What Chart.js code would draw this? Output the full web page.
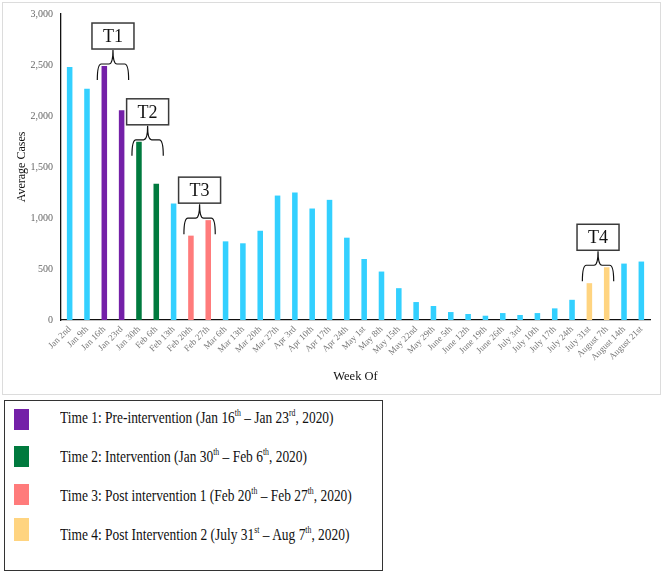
<!DOCTYPE html>
<html>
<head>
<meta charset="utf-8" />
<title>Average Cases by Week</title>
<script src="https://cdn.jsdelivr.net/npm/chart.js"></script>
<style>
  body { margin: 0; background: #fff; font-family: 'Liberation Serif', serif; }
  #card { position: absolute; left: 2px; top: 2px; width: 657px; height: 391px; border: 1px solid #dcdcdc; }
  #wrap { position: absolute; left: 0; top: 0; width: 668px; height: 396px; }
  #legend { position: absolute; left: 4px; top: 400px; width: 377px; height: 169px; border: 1px solid #333; }
  .sw { position: absolute; left: 9px; width: 15px; height: 21px; }
  .tx { position: absolute; left: 55px; font-size: 17px; color: #111; white-space: nowrap;
        transform: scaleX(0.79); transform-origin: left center; line-height: 20px; }
  .tx sup { font-size: 0.58em; line-height: 0; vertical-align: 0.7em; }
</style>
</head>
<body>
<div id="card"></div>
<div id="wrap"><canvas id="chart" width="668" height="396"></canvas></div>
<div id="legend">
  <div class="sw" style="top:8px;background:#7420A8"></div>
  <div class="tx" style="top:7px">Time 1: Pre-intervention (Jan 16<sup>th</sup> – Jan 23<sup>rd</sup>, 2020)</div>
  <div class="sw" style="top:45px;background:#007A3E"></div>
  <div class="tx" style="top:46px">Time 2: Intervention (Jan 30<sup>th</sup> – Feb 6<sup>th</sup>, 2020)</div>
  <div class="sw" style="top:83px;background:#FF7B7B"></div>
  <div class="tx" style="top:85px">Time 3: Post intervention 1 (Feb 20<sup>th</sup> – Feb 27<sup>th</sup>, 2020)</div>
  <div class="sw" style="top:117px;height:23px;background:#FFD480"></div>
  <div class="tx" style="top:124px">Time 4: Post Intervention 2 (July 31<sup>st</sup> – Aug 7<sup>th</sup>, 2020)</div>
</div>
<script>
const weeks = ['Jan 2nd', 'Jan 9th', 'Jan 16th', 'Jan 23rd', 'Jan 30th', 'Feb 6th', 'Feb 13th',
  'Feb 20th', 'Feb 27th', 'Mar 6th', 'Mar 13th', 'Mar 20th', 'Mar 27th', 'Apr 3rd', 'Apr 10th',
  'Apr 17th', 'Apr 24th', 'May 1st', 'May 8th', 'May 15th', 'May 22nd', 'May 29th', 'June 5th',
  'June 12th', 'June 19th', 'June 26th', 'July 3rd', 'July 10th', 'July 17th', 'July 24th',
  'July 31st', 'August 7th', 'August 14th', 'August 21st'];

const avgCases = [2480, 2268, 2490, 2057, 1747, 1337, 1142, 827, 979, 771, 752, 875, 1220, 1250,
  1093, 1178, 807, 598, 475, 312, 176, 137, 78, 59, 42, 68, 49, 68, 114, 198, 361, 517, 553, 573];

// period each week belongs to (0 = none)
const period = [0, 0, 1, 1, 2, 2, 0, 3, 3, 0, 0, 0, 0, 0, 0, 0, 0, 0, 0, 0, 0, 0, 0, 0, 0, 0,
  0, 0, 0, 0, 4, 4, 0, 0];

const periodColors = ['#33D0FF', '#7420A8', '#007A3E', '#FF7B7B', '#FFD480'];

const yTicks = [0, 500, 1000, 1500, 2000, 2500, 3000];

// callouts: label, first week, last week
const callouts = [
  ['T1', 'Jan 16th', 'Jan 23rd'],
  ['T2', 'Jan 30th', 'Feb 6th'],
  ['T3', 'Feb 20th', 'Feb 27th'],
  ['T4', 'July 31st', 'August 7th'],
];

const serif = "'Liberation Serif', 'Times New Roman', serif";

const calloutPlugin = {
  id: 'callouts',
  afterDatasetsDraw(chart) {
    const { ctx, scales: { x, y } } = chart;
    ctx.save();
    callouts.forEach(([label, from, to]) => {
      const i0 = weeks.indexOf(from), i1 = weeks.indexOf(to);
      const x0 = x.getPixelForValue(i0) - 7;
      const x1 = x.getPixelForValue(i1) + 7;
      const xm = (x0 + x1) / 2;
      const top = Math.max(...avgCases.slice(i0, i1 + 1));
      const arcY = y.getPixelForValue(top) - 2;
      const endY = arcY + 16;
      const cuspY = arcY - 14;
      const r = 4;
      ctx.strokeStyle = '#111';
      ctx.lineWidth = 1.2;
      ctx.beginPath();
      ctx.moveTo(x0, endY);
      ctx.quadraticCurveTo(x0, arcY, x0 + r, arcY);
      ctx.lineTo(xm - r, arcY);
      ctx.quadraticCurveTo(xm, arcY, xm, cuspY);
      ctx.quadraticCurveTo(xm, arcY, xm + r, arcY);
      ctx.lineTo(x1 - r, arcY);
      ctx.quadraticCurveTo(x1, arcY, x1, endY);
      ctx.stroke();
      // box
      const bw = 42, bh = 26;
      const bb = cuspY - 1;
      ctx.fillStyle = '#fff';
      ctx.fillRect(xm - bw / 2, bb - bh, bw, bh);
      ctx.strokeStyle = '#3a3a3a';
      ctx.lineWidth = 1.5;
      ctx.strokeRect(xm - bw / 2, bb - bh, bw, bh);
      ctx.fillStyle = '#111';
      ctx.font = '18px ' + serif;
      ctx.textAlign = 'center';
      ctx.textBaseline = 'middle';
      ctx.fillText(label, xm, bb - bh / 2 + 1);
    });
    ctx.restore();
  }
};

new Chart(document.getElementById('chart'), {
  type: 'bar',
  data: {
    labels: weeks,
    datasets: [{
      label: 'Average Cases',
      data: avgCases,
      backgroundColor: period.map(p => periodColors[p]),
      barPercentage: 0.32,
      categoryPercentage: 1,
    }]
  },
  options: {
    responsive: false,
    animation: false,
    layout: { padding: { top: 13, right: 18, left: 0, bottom: 0 } },
    plugins: { legend: { display: false }, tooltip: { enabled: false } },
    scales: {
      x: {
        grid: { display: false, drawTicks: false },
        border: { display: true, color: '#111', width: 1.3 },
        ticks: {
          color: '#777', font: { family: serif, size: 9 },
          minRotation: 45, maxRotation: 45, autoSkip: false, padding: 4,
        },
        title: { display: true, text: 'Week Of', color: '#111', font: { family: serif, size: 12.5 }, padding: { top: 4, bottom: 12 } },
        afterFit: s => { s.height = 76; },
      },
      y: {
        min: 0, max: 3000,
        afterBuildTicks: s => { s.ticks = yTicks.map(v => ({ value: v })); },
        grid: { display: false, drawTicks: false },
        border: { display: true, color: '#111', width: 1.3 },
        ticks: {
          color: '#666', font: { family: serif, size: 10 }, padding: 8,
          callback: v => v.toLocaleString('en-US'),
        },
        title: { display: true, text: 'Average Cases', color: '#111', font: { family: serif, size: 12 }, padding: { top: 15, bottom: 4 } },
        afterFit: s => { s.width = 61; },
      }
    }
  },
  plugins: [calloutPlugin]
});
</script>
</body>
</html>
